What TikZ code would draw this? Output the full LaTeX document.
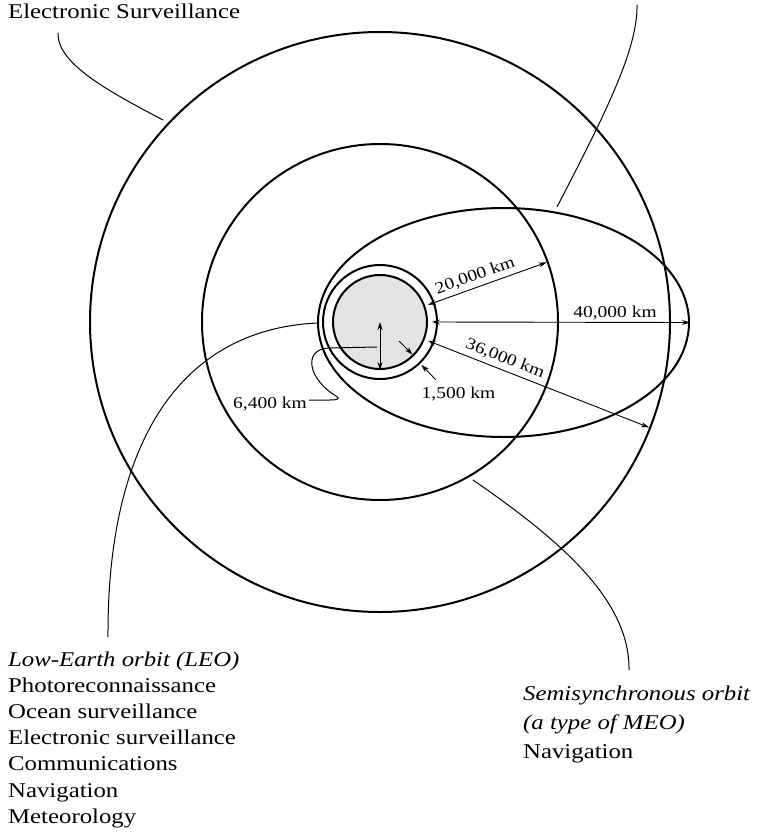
\documentclass[tikz,border=0pt]{standalone}
\usepackage{fontspec}
\setmainfont{Liberation Serif}[FakeStretch=1.18]
\usetikzlibrary{arrows.meta,shapes.geometric,calc}
\definecolor{earthgray}{RGB}{228,228,228}
\begin{document}
\begin{tikzpicture}[x=1pt,y=-1pt,
  orbit/.style={draw, circle, line width=2pt, inner sep=0pt},
  leader/.style={line width=1pt},
  dim/.style={line width=0.9pt, {Stealth[length=8pt,width=5pt]}-{Stealth[length=8pt,width=5pt]}},
  dimone/.style={line width=0.9pt, -{Stealth[length=8pt,width=5pt]}},
  lbl/.style={font=\fontsize{21}{26}\selectfont, inner sep=0pt},
  km/.style={font=\fontsize{16.5}{19}\selectfont, inner sep=0pt},
]
\useasboundingbox (0,0) rectangle (763,832);
\coordinate (C) at (380,322);
% orbits
\node[orbit, minimum size=580pt] (geo) at (C) {};
\node[orbit, minimum size=356pt] (meo) at (C) {};
\node[draw, ellipse, line width=2pt, inner sep=0pt, minimum width=371pt, minimum height=229pt] (heo) at (503.5,322.5) {};
\node[orbit, minimum size=114pt] (leo) at (C) {};
\node[orbit, fill=earthgray, minimum size=94pt] (earth) at (C) {};

% dimension arrows
\coordinate (a20s) at ($(C)+(-19.7:51)$);
\coordinate (a20e) at ($(C)+(-19.7:177)$);
\draw[dim] (a20s) -- (a20e) node[km, pos=0.43, above=4pt, sloped] {20,000 km};

\coordinate (a40s) at ($(C)+(0:52)$);
\draw[dim] (a40s) -- (heo.east);
\node[km, anchor=base] (k40) at (615,317) {40,000 km};

\coordinate (a36s) at ($(C)+(21.4:51.5)$);
\coordinate (a36e) at ($(C)+(21.4:289)$);
\draw[dim] (a36s) -- (a36e) node[km, pos=0.33, above=4pt, sloped] {36,000 km};

\coordinate (b1s) at ($(C)+(45:27)$);
\coordinate (b1e) at ($(C)+(45:46)$);
\draw[dimone] (b1s) -- (b1e);
\coordinate (b2s) at ($(C)+(46:80)$);
\coordinate (b2e) at ($(C)+(46:59.5)$);
\draw[dimone] (b2s) -- (b2e);
\node[km, anchor=base] (k15) at (458.5,398) {1,500 km};

\draw[dim] (C) -- (earth.south);
\node[km, anchor=base east] (k64) at (307,408) {6,400 km};
\coordinate (l64s) at (377,347);
\coordinate (l64e) at (309,400);
\draw[leader] (l64s) -- (328,348) .. controls (302,350) and (309,380) .. (336,396)
  .. controls (341,399) and (337,400) .. (330,400) -- (l64e);

% labels
\node[lbl, anchor=base west] (es) at (8,19) {Electronic Surveillance};
\node[lbl, anchor=base west] (leo1) at (8,666) {\itshape Low-Earth orbit (LEO)};
\node[lbl, anchor=base west] (leo2) at (8,692.2) {Photoreconnaissance};
\node[lbl, anchor=base west] (leo3) at (8,718.4) {Ocean surveillance};
\node[lbl, anchor=base west] (leo4) at (8,744.6) {Electronic surveillance};
\node[lbl, anchor=base west] (leo5) at (8,770.8) {Communications};
\node[lbl, anchor=base west] (leo6) at (8,797) {Navigation};
\node[lbl, anchor=base west] (leo7) at (8,823.2) {Meteorology};
\node[lbl, anchor=base west] (ss1) at (523,700) {\itshape Semisynchronous orbit};
\node[lbl, anchor=base west] (ss2) at (523,729) {\itshape (a type of MEO)};
\node[lbl, anchor=base west] (ss3) at (523,758) {Navigation};

% leaders
\coordinate (esA) at (58,33);
\coordinate (esB) at (163,120);
\draw[leader] (esA) .. controls (57,64) and (110,92) .. (esB);

\coordinate (trA) at (637,5);
\coordinate (trB) at (557,207);
\draw[leader] (trA) .. controls (638,50) and (603,118) .. (trB);

\coordinate (leoA) at (108,637);
\coordinate (leoB) at (317,323);
\draw[leader] (leoA) .. controls (107,450) and (175,330) .. (leoB);

\coordinate (ssA) at (473,480);
\coordinate (ssB) at (629,670);
\draw[leader] (ssA) .. controls (560,540) and (630,600) .. (ssB);
\end{tikzpicture}
\end{document}
